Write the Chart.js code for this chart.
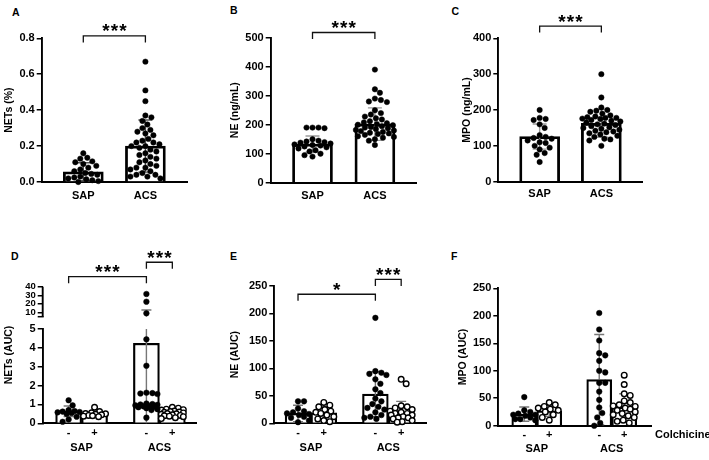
<!DOCTYPE html>
<html>
<head>
<meta charset="utf-8">
<title>NETs, NE and MPO in SAP and ACS</title>
<script src="https://cdn.jsdelivr.net/npm/chart.js@4.4.1/dist/chart.umd.min.js"></script>
<style>
  body { margin: 0; background: #fff; }
  #page { position: relative; width: 709px; height: 460px; overflow: hidden; font-family: "Liberation Sans", Arial, sans-serif; }
  canvas { position: absolute; }
  .tag { position: absolute; font-weight: bold; font-size: 10.5px; line-height: 11px; }
</style>
</head>
<body>
<div id="page">
  <div class="tag" style="left:12px;top:6.5px">A</div>
  <div class="tag" style="left:230px;top:5px">B</div>
  <div class="tag" style="left:451.5px;top:5.5px">C</div>
  <div class="tag" style="left:11px;top:251px">D</div>
  <div class="tag" style="left:230px;top:251px">E</div>
  <div class="tag" style="left:451px;top:251px">F</div>

  <canvas id="chart_a" width="228" height="215" style="left:0;top:0"></canvas>
  <canvas id="chart_b" width="228" height="215" style="left:228px;top:0"></canvas>
  <canvas id="chart_c" width="251" height="215" style="left:458px;top:0"></canvas>
  <canvas id="chart_d" width="228" height="230" style="left:0;top:230px"></canvas>
  <canvas id="chart_e" width="228" height="230" style="left:228px;top:230px"></canvas>
  <canvas id="chart_f" width="255" height="230" style="left:454px;top:230px"></canvas>
</div>
<script>
var FONT_FAMILY = '"Liberation Sans", Arial, sans-serif';

// ---------- top row: SAP vs ACS ----------
var groupLabels = ['SAP', 'ACS'];
var groupX = [1, 2];

// A - NETs (%)
var netsTicks = [0, 0.2, 0.4, 0.6, 0.8];
var netsSap = [0.16, 0.135, 0.13, 0.115, 0.11, 0.1, 0.09, 0.08, 0.07, 0.06, 0.05, 0.045, 0.04, 0.03, 0.025, 0.02, 0.015, 0.01, 0.005, 0.0];
var netsAcs = [0.67, 0.51, 0.45, 0.37, 0.36, 0.34, 0.32, 0.3, 0.29, 0.28, 0.27, 0.26, 0.24, 0.23, 0.22, 0.22, 0.21, 0.2, 0.2, 0.19,
               0.18, 0.17, 0.16, 0.15, 0.14, 0.13, 0.12, 0.11, 0.1, 0.09, 0.08, 0.08, 0.07, 0.06, 0.05, 0.04, 0.04, 0.03, 0.03, 0.02];
var netsMean = [0.057, 0.2];
var netsSd = [0.05, 0.145];
var netsBrackets = [{from: 1, to: 2, y: 0.813, text: '***'}];

// B - NE (ng/mL)
var neTicks = [0, 100, 200, 300, 400, 500];
var neSap = [190, 190, 190, 188, 150, 145, 142, 140, 138, 135, 132, 130, 128, 125, 122, 118, 112, 108, 100, 95, 90];
var neAcs = [390, 322, 310, 290, 285, 280, 278, 250, 240, 235, 228, 222, 218, 212, 208, 205, 202, 200, 198, 195,
             192, 190, 188, 185, 182, 180, 178, 175, 172, 170, 168, 165, 160, 158, 155, 150, 145, 130];
var neMean = [133, 202];
var neSd = [28, 56];
var neBrackets = [{from: 1, to: 2, y: 518, text: '***'}];

// C - MPO (ng/mL)
var mpoTicks = [0, 100, 200, 300, 400];
var mpoSap = [200, 178, 175, 172, 160, 150, 130, 125, 122, 120, 115, 110, 108, 100, 95, 90, 80, 75, 55];
var mpoAcs = [300, 235, 207, 200, 198, 195, 190, 185, 182, 180, 178, 178, 176, 175, 172, 170, 168, 165, 162, 160,
              158, 155, 152, 150, 148, 145, 142, 140, 138, 135, 132, 128, 125, 120, 118, 115, 100];
var mpoMean = [126, 163];
var mpoSd = [35, 39];
var mpoBrackets = [{from: 1, to: 2, y: 434, text: '***'}];

// ---------- bottom row: AUC without (-) / with (+) colchicine ----------
var treatLabels = ['-', '+', '-', '+'];
var treatX = [1, 2, 4, 5];
var treatGroupX = [1.5, 4.5];
var treatFilled = [true, false, true, false];

// D - NETs (AUC), broken axis
var netsAucTicksLow = [0, 1, 2, 3, 4, 5];
var netsAucTicksHigh = [10, 20, 30, 40];
var netsAucSapMinus = [1.22, 0.95, 0.7, 0.65, 0.62, 0.6, 0.58, 0.55, 0.5, 0.35, 0.2, 0.08];
var netsAucSapPlus = [0.85, 0.62, 0.56, 0.52, 0.5, 0.48, 0.45, 0.42, 0.4, 0.38, 0.35];
var netsAucAcsMinus = [31.5, 22.5, 9, 4.45, 3.05, 1.62, 1.6, 1.58, 1.55, 1.05, 1.02, 1.0, 0.98, 0.95, 0.92, 0.9, 0.88, 0.85, 0.8, 0.75, 0.7, 0.3];
var netsAucAcsPlus = [0.85, 0.8, 0.75, 0.72, 0.7, 0.65, 0.62, 0.6, 0.58, 0.55, 0.52, 0.5, 0.48, 0.45, 0.42, 0.4, 0.38, 0.35, 0.3, 0.25];
var netsAucMean = [0.64, 0.5, 4.24, 0.52];
var netsAucSd = [0.28, 0.15, 8.5, 0.18];
var netsAucBrackets = [
  {from: 1, to: 4, y: 51.7, axis: 'yTop', text: '***'},
  {from: 4, to: 5, y: 68.5, axis: 'yTop', text: '***'}
];

// E - NE (AUC)
var neAucTicks = [0, 50, 100, 150, 200, 250];
var neAucSapMinus = [40, 40, 27, 22, 20, 18, 17, 15, 12, 10, 5, 2];
var neAucSapPlus = [38, 33, 30, 25, 22, 20, 18, 15, 12, 8, 5, 3];
var neAucAcsMinus = [192, 95, 92, 90, 88, 80, 72, 62, 55, 45, 40, 35, 30, 28, 25, 20, 15, 12, 10, 8];
var neAucAcsPlus = [80, 72, 32, 30, 28, 25, 22, 20, 18, 18, 15, 15, 12, 10, 10, 8, 5, 3, 2];
var neAucMean = [18, 19, 53, 20];
var neAucSd = [15, 11, 41, 20];
var neAucBrackets = [
  {from: 1, to: 4, y: 235, text: '*'},
  {from: 4, to: 5, y: 262, text: '***'}
];

// F - MPO (AUC)
var mpoAucTicks = [0, 50, 100, 150, 200, 250];
var mpoAucSapMinus = [52, 28, 25, 22, 20, 20, 18, 15, 12, 12, 10];
var mpoAucSapPlus = [42, 38, 35, 32, 30, 28, 25, 20, 15, 10];
var mpoAucAcsMinus = [205, 175, 155, 132, 128, 118, 100, 97, 78, 78, 62, 47, 33, 23, 15, 5, 0];
var mpoAucAcsPlus = [92, 75, 58, 55, 45, 42, 38, 36, 35, 32, 30, 28, 25, 22, 20, 18, 15, 10, 8, 5];
var mpoAucMean = [21, 27, 84, 34];
var mpoAucSd = [13, 10, 82, 24];

function font(size) {
  return {family: FONT_FAMILY, size: size, weight: 'bold', lineHeight: 1.2};
}

function pointSet(values, x, filled, axisId, radius) {
  return {
    type: 'scatter',
    data: values.map(function(v) { return {x: x, y: v}; }),
    groupX: x,
    xAxisID: 'x',
    yAxisID: axisId,
    pointRadius: radius,
    pointHoverRadius: radius,
    pointBackgroundColor: filled ? '#000000' : '#ffffff',
    pointBorderColor: '#000000',
    pointBorderWidth: filled ? 0.5 : 1.4,
    clip: false,
    order: 1
  };
}

function yScale(p, tickValues, min, max, fontSize) {
  return {
    type: 'linear',
    position: 'left',
    min: min,
    max: max,
    grid: {display: true, drawOnChartArea: false, drawTicks: true, tickLength: 5, color: '#000', lineWidth: 1.5},
    border: {display: true, color: '#000', width: 1.9},
    ticks: {
      font: font(fontSize), color: '#000', padding: 2, autoSkip: false,
      callback: function(v) { return p.decimals ? v.toFixed(p.decimals) : String(v); }
    },
    afterBuildTicks: function(s) { s.ticks = tickValues.map(function(v) { return {value: v}; }); },
    afterFit: function(s) { s.width = p.yWidth; }
  };
}

function valuePixel(chart, p, v) {
  if (p.breakAt && v > p.breakAt) return chart.scales.yTop.getPixelForValue(v);
  return chart.scales.y.getPixelForValue(v);
}

function drawErrorBars(chart, p) {
  var ctx = chart.ctx;
  var xs = chart.scales.x;
  ctx.save();
  ctx.strokeStyle = p.errColor;
  ctx.lineWidth = 1.4;
  p.barX.forEach(function(x, i) {
    var px = xs.getPixelForValue(x);
    var hi = p.means[i] + p.sds[i];
    var lo = Math.max(p.means[i] - p.sds[i], p.yMin);
    var segs = [[lo, hi, 'y']];
    if (p.breakAt && hi > p.breakAt) segs = [[lo, p.breakAt, 'y'], [p.breakAt, hi, 'yTop']];
    ctx.beginPath();
    segs.forEach(function(s) {
      var sc = chart.scales[s[2]];
      ctx.moveTo(px, sc.getPixelForValue(s[0]));
      ctx.lineTo(px, sc.getPixelForValue(s[1]));
    });
    var yHi = valuePixel(chart, p, hi);
    ctx.moveTo(px - p.capWidth / 2, yHi);
    ctx.lineTo(px + p.capWidth / 2, yHi);
    if (lo > p.yMin) {
      var yLo = valuePixel(chart, p, lo);
      ctx.moveTo(px - p.capWidth / 2, yLo);
      ctx.lineTo(px + p.capWidth / 2, yLo);
    }
    ctx.stroke();
  });
  ctx.restore();
}

function drawStars(ctx, text, cx, cy) {
  var size = 19;
  var gap = 8.5;
  ctx.font = 'bold ' + size + 'px ' + FONT_FAMILY;
  ctx.textAlign = 'center';
  ctx.textBaseline = 'alphabetic';
  for (var i = 0; i < text.length; i++) {
    ctx.fillText(text[i], cx + (i - (text.length - 1) / 2) * gap, cy + size * 0.58);
  }
}

function drawDecor(chart, p) {
  var ctx = chart.ctx;
  var xs = chart.scales.x;
  var area = chart.chartArea;
  ctx.save();
  ctx.strokeStyle = '#111';
  ctx.fillStyle = '#000';
  ctx.lineWidth = 1.3;

  // significance brackets
  (p.brackets || []).forEach(function(b) {
    var ys = chart.scales[b.axis || 'y'];
    var x1 = xs.getPixelForValue(b.from);
    var x2 = xs.getPixelForValue(b.to);
    var yy = ys.getPixelForValue(b.y);
    ctx.beginPath();
    ctx.moveTo(x1, yy + 6.5);
    ctx.lineTo(x1, yy);
    ctx.lineTo(x2, yy);
    ctx.lineTo(x2, yy + 6.5);
    ctx.stroke();
    drawStars(ctx, b.text, (x1 + x2) / 2, yy - 9.5);
  });

  // upper segment of a broken axis
  if (p.breakAt) {
    var top = chart.scales.yTop;
    var yBreak = top.getPixelForValue(p.breakAt);
    ctx.strokeStyle = '#000';
    ctx.lineWidth = 1.9;
    ctx.beginPath();
    ctx.moveTo(area.left, top.getPixelForValue(p.topMax));
    ctx.lineTo(area.left, yBreak);
    ctx.stroke();
    ctx.lineWidth = 1.5;
    ctx.beginPath();
    ctx.moveTo(area.left - 5, yBreak);
    ctx.lineTo(area.left + 1, yBreak);
    ctx.stroke();

    // y title spans both segments
    ctx.save();
    ctx.translate(p.titleX, (area.top + area.bottom) / 2);
    ctx.rotate(-Math.PI / 2);
    ctx.font = 'bold 10.5px ' + FONT_FAMILY;
    ctx.textAlign = 'center';
    ctx.textBaseline = 'middle';
    ctx.fillText(p.yTitle, 0, 0);
    ctx.restore();
  }

  if (p.sideLabel) {
    ctx.font = 'bold 11px ' + FONT_FAMILY;
    ctx.textAlign = 'left';
    ctx.textBaseline = 'middle';
    ctx.fillText(p.sideLabel, area.right + 3.3, xs.top + p.xPad + 7.1);
  }
  ctx.restore();
}

function decorPlugin(p) {
  return {
    id: 'decor',
    afterDatasetDraw: function(chart, args) {
      if (args.index === 0) drawErrorBars(chart, p);
    },
    afterDraw: function(chart) {
      drawDecor(chart, p);
    }
  };
}

// beeswarm: push overlapping dots sideways, in pixel space, from the chart's own scales
function spreadPoints(chart, p) {
  var xs = chart.scales.x;
  var minDist = p.radius * 2 + 0.4;
  chart.data.datasets.forEach(function(ds) {
    if (ds.type !== 'scatter') return;
    var ys = chart.scales[ds.yAxisID];
    var cx = xs.getPixelForValue(ds.groupX);
    var placed = [];
    var order = ds.data.map(function(pt, k) { return k; });
    order.sort(function(a, b) { return ds.data[b].y - ds.data[a].y; });
    order.forEach(function(k) {
      var py = ys.getPixelForValue(ds.data[k].y);
      var best = 0, bestGap = -1;
      for (var step = 0; step <= p.spread * 2; step++) {
        var off = (step % 2 ? 1 : -1) * Math.ceil(step / 2);
        var gap = Infinity;
        placed.forEach(function(q) {
          gap = Math.min(gap, Math.hypot(cx + off - q.x, py - q.y));
        });
        if (gap >= minDist) { best = off; bestGap = gap; break; }
        if (gap > bestGap) { best = off; bestGap = gap; }
      }
      placed.push({x: cx + best, y: py});
      ds.data[k].x = xs.getValueForPixel(cx + best);
    });
  });
  chart.update('none');
}

function buildPanel(p) {
  var datasets = [{
    type: 'bar',
    data: p.barX.map(function(x, i) { return {x: x, y: p.means[i]}; }),
    backgroundColor: '#ffffff',
    borderColor: '#000000',
    borderWidth: p.barBorder,
    borderSkipped: 'start',
    barThickness: p.barWidth,
    grouped: false,
    xAxisID: 'x',
    yAxisID: 'y',
    order: 2
  }];
  p.points.forEach(function(values, i) {
    var low = values, high = [];
    if (p.breakAt) {
      low = values.filter(function(v) { return v <= p.breakAt; });
      high = values.filter(function(v) { return v > p.breakAt; });
    }
    datasets.push(pointSet(low, p.barX[i], p.filled[i], 'y', p.radius));
    if (high.length) datasets.push(pointSet(high, p.barX[i], p.filled[i], 'yTop', p.radius));
  });

  var scales = {
    x: {
      type: 'linear', position: 'bottom', min: p.xMin, max: p.xMax, offset: false, weight: 0,
      grid: {display: false, drawTicks: false, offset: false},
      border: {display: true, color: '#000', width: 1.9},
      ticks: {
        font: font(11), color: '#000', padding: p.xPad, maxRotation: 0, autoSkip: false,
        callback: function(v, i) { return p.barLabels[i]; }
      },
      afterBuildTicks: function(s) { s.ticks = p.barX.map(function(v) { return {value: v}; }); },
      afterFit: function(s) { s.height = p.xHeight; }
    },
    y: yScale(p, p.ticks, p.yMin, p.yMax, 11)
  };

  if (p.breakAt) {
    scales.y.stack = 'left';
    scales.y.stackWeight = p.lowWeight;
    scales.yTop = yScale(p, p.ticksHigh, p.topMin, p.topMax, 9.5);
    scales.yTop.stack = 'left';
    scales.yTop.stackWeight = p.highWeight;
    scales.yTop.border = {display: false};
  } else {
    scales.y.title = {
      display: true, text: p.yTitle, font: font(10.5), color: '#000',
      padding: {top: p.titlePad, bottom: 0}
    };
  }

  if (p.groupLabels) {
    scales.xg = {
      type: 'linear', position: 'bottom', min: p.xMin, max: p.xMax, offset: false, weight: 1,
      grid: {display: false, drawTicks: false, offset: false},
      border: {display: false},
      ticks: {
        font: font(11), color: '#000', padding: p.groupPad, maxRotation: 0, autoSkip: false,
        callback: function(v, i) { return p.groupLabels[i]; }
      },
      afterBuildTicks: function(s) { s.ticks = p.groupX.map(function(v) { return {value: v}; }); },
      afterFit: function(s) { s.height = p.groupHeight; }
    };
  }

  var chart = new Chart(document.getElementById(p.id), {
    type: 'bar',
    data: {datasets: datasets},
    options: {
      responsive: false,
      animation: false,
      devicePixelRatio: 1,
      layout: {autoPadding: false, padding: {top: p.padTop, right: p.padRight, bottom: 0, left: 0}},
      plugins: {legend: {display: false}, tooltip: {enabled: false}},
      scales: scales
    },
    plugins: [decorPlugin(p)]
  });
  spreadPoints(chart, p);
  return chart;
}

var topStyle = {
  barX: groupX, barLabels: groupLabels, filled: [true, true], xMin: 0.33, xMax: 2.67,
  barWidth: 40, barBorder: 2.8, radius: 2.7, spread: 19, capWidth: 14, yMin: 0
};
var bottomStyle = {
  barX: treatX, barLabels: treatLabels, groupX: treatGroupX, groupLabels: groupLabels, filled: treatFilled,
  barBorder: 2.2, radius: 2.8, spread: 11, capWidth: 10, yMin: 0, errColor: '#777',
  xHeight: 12, xPad: 3
};

buildPanel(Object.assign({}, topStyle, {
  id: 'chart_a', yTitle: 'NETs (%)', ticks: netsTicks, yMax: 0.8, decimals: 1,
  points: [netsSap, netsAcs], means: netsMean, sds: netsSd, brackets: netsBrackets, errColor: '#555',
  padTop: 38.3, padRight: 41, yWidth: 41.7, xHeight: 33, xPad: 7, titlePad: 3
}));

buildPanel(Object.assign({}, topStyle, {
  id: 'chart_b', yTitle: 'NE (ng/mL)', ticks: neTicks, yMax: 500,
  points: [neSap, neAcs], means: neMean, sds: neSd, brackets: neBrackets, errColor: '#9a9a9a',
  padTop: 37.7, padRight: 39.3, yWidth: 42.7, xHeight: 32.3, xPad: 7, titlePad: 0.4
}));

buildPanel(Object.assign({}, topStyle, {
  id: 'chart_c', yTitle: 'MPO (ng/mL)', ticks: mpoTicks, yMax: 400,
  points: [mpoSap, mpoAcs], means: mpoMean, sds: mpoSd, brackets: mpoBrackets, errColor: '#9a9a9a',
  padTop: 38.3, padRight: 66.3, yWidth: 40.3, xHeight: 33.3, xPad: 6, titlePad: 2.7
}));

buildPanel(Object.assign({}, bottomStyle, {
  id: 'chart_d', yTitle: 'NETs (AUC)', ticks: netsAucTicksLow, ticksHigh: netsAucTicksHigh, yMax: 5,
  breakAt: 5, topMin: -9.35, topMax: 40, lowWeight: 94.3, highWeight: 42.3, titleX: 9.3,
  points: [netsAucSapMinus, netsAucSapPlus, netsAucAcsMinus, netsAucAcsPlus],
  means: netsAucMean, sds: netsAucSd, brackets: netsAucBrackets,
  xMin: 0, xMax: 5.94, barWidth: 26,
  padTop: 56.7, padRight: 31.3, yWidth: 42.7, groupHeight: 24.7, groupPad: 6.5
}));

buildPanel(Object.assign({}, bottomStyle, {
  id: 'chart_e', yTitle: 'NE (AUC)', ticks: neAucTicks, yMax: 250,
  points: [neAucSapMinus, neAucSapPlus, neAucAcsMinus, neAucAcsPlus],
  means: neAucMean, sds: neAucSd, brackets: neAucBrackets,
  xMin: 0.08, xMax: 5.99, barWidth: 25.8,
  padTop: 56, padRight: 29.3, yWidth: 46.3, groupHeight: 24.7, groupPad: 6.5, titlePad: 0.7
}));

buildPanel(Object.assign({}, bottomStyle, {
  id: 'chart_f', yTitle: 'MPO (AUC)', ticks: mpoAucTicks, yMax: 250,
  points: [mpoAucSapMinus, mpoAucSapPlus, mpoAucAcsMinus, mpoAucAcsPlus],
  means: mpoAucMean, sds: mpoAucSd, sideLabel: 'Colchicine',
  xMin: -0.04, xMax: 6.1, barWidth: 25,
  padTop: 58.3, padRight: 57.3, yWidth: 44.3, xPad: 2.2, groupHeight: 22.3, groupPad: 4.5, titlePad: 2.4
}));
</script>
</body>
</html>
